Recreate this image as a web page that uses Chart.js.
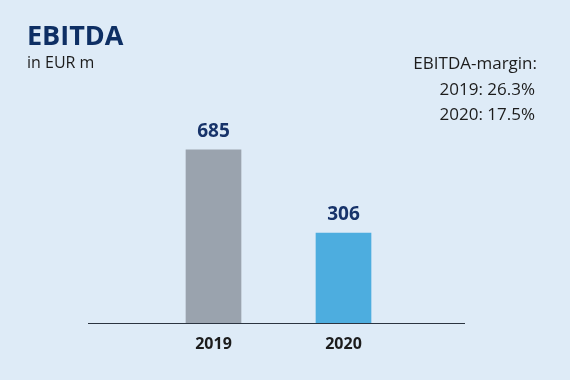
<!DOCTYPE html>
<html>
<head>
<meta charset="utf-8">
<script src="https://cdn.jsdelivr.net/npm/chart.js@4/dist/chart.umd.min.js"></script>
<style>
  html, body { margin: 0; padding: 0; background: #deebf7; }
  #wrap { position: relative; width: 570px; height: 380px; overflow: hidden; font-family: "Open Sans", sans-serif; }
  canvas { position: absolute; left: 0; top: 0; }
  .t { position: absolute; white-space: nowrap; line-height: 1; }
  #title { left: 27px; top: 21px; font-size: 27px; font-weight: 700; color: #0e2f64; }
  #unit { left: 27px; top: 54px; font-size: 16px; color: #1c1c1c; }
  .r { right: 34px; font-size: 17px; color: #1c1c1c; text-align: right; }
  #m0 { top: 54px; right: 33px; }
  #m1 { top: 80px; right: 35px; }
  #m2 { top: 105px; right: 35px; }
</style>
</head>
<body>
<div id="wrap">
  <canvas id="c" width="570" height="380"></canvas>
  <div class="t" id="title">EBITDA</div>
  <div class="t" id="unit">in EUR m</div>
  <div class="t r" id="m0">EBITDA-margin:</div>
  <div class="t r" id="m1">2019: 26.3%</div>
  <div class="t r" id="m2">2020: 17.5%</div>
</div>
<script>
const categories = ['2019', '2020'];
const ebitda = [685, 306];
const barColors = ['#9aa3ae', '#4daddf'];

// visual baseline of the drawn bars (the source chart does not start at zero)
const BASE = -105;

const baselinePlugin = {
  id: 'baselinePlugin',
  afterDatasetsDraw(chart) {
    const ctx = chart.ctx;
    const y = Math.round(chart.scales.y.getPixelForValue(BASE)) + 0.5;
    ctx.save();
    ctx.strokeStyle = '#2b3440';
    ctx.lineWidth = 1;
    ctx.beginPath();
    ctx.moveTo(88, y);
    ctx.lineTo(465, y);
    ctx.stroke();
    // value labels
    const meta = chart.getDatasetMeta(0);
    ctx.fillStyle = '#17336a';
    ctx.font = '700 19px "Open Sans"';
    ctx.textAlign = 'center';
    ctx.textBaseline = 'middle';
    meta.data.forEach((bar, i) => {
      ctx.fillText(String(ebitda[i]), bar.x, bar.y - 18);
    });
    ctx.restore();
  }
};

new Chart(document.getElementById('c'), {
  type: 'bar',
  data: {
    labels: categories,
    datasets: [{
      data: ebitda,
      base: BASE,
      backgroundColor: barColors,
      borderWidth: 0,
      barThickness: 55
    }]
  },
  options: {
    responsive: false,
    animation: false,
    layout: { padding: { left: 148.5, right: 161.5, top: 100, bottom: 13.8 } },
    plugins: { legend: { display: false }, tooltip: { enabled: false } },
    scales: {
      x: {
        grid: { display: false, drawTicks: false },
        border: { display: false },
        ticks: { color: '#1c1c1c', font: { family: 'Open Sans', size: 16, weight: '700' }, padding: 12 }
      },
      y: {
        display: false,
        min: BASE,
        max: 913
      }
    }
  },
  plugins: [baselinePlugin]
});
</script>
</body>
</html>
